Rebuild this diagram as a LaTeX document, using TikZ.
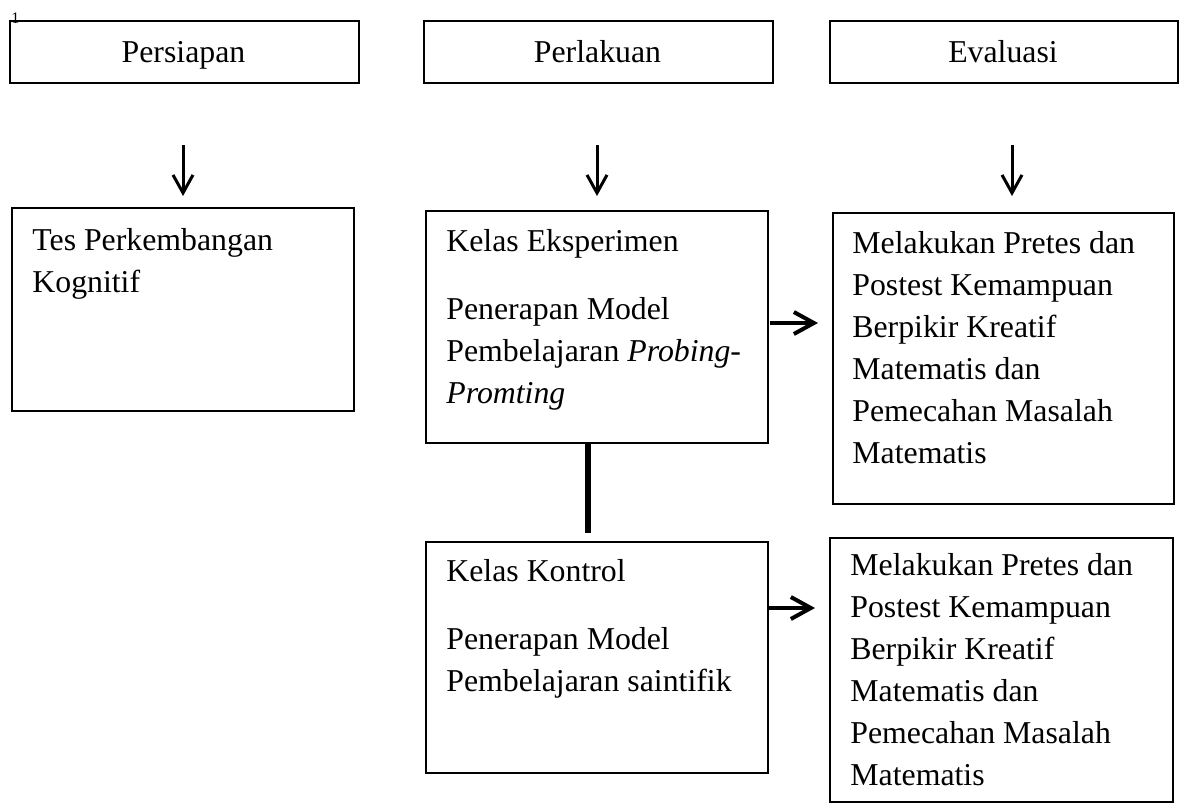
\documentclass[tikz,border=0pt]{standalone}
\usepackage{fontspec}
\setmainfont{Liberation Serif}
\usetikzlibrary{arrows.meta}
\begin{document}
\begin{tikzpicture}[x=0.5pt,y=-0.5pt,
  box/.style={draw, line width=1pt, rectangle, inner sep=0pt, anchor=north west},
  txt/.style={inner sep=0pt, anchor=base west, font=\fontsize{15.9}{21}\selectfont},
  head/.style={inner sep=0pt, anchor=base, font=\fontsize{15.9}{21}\selectfont},
  darr/.style={line width=1.5pt, -{Straight Barb[length=9pt,width=10pt]}},
  rarr/.style={line width=2pt, -{Straight Barb[length=10pt,width=11pt]}},
  link/.style={line width=3pt}]
\useasboundingbox (0,0) rectangle (1182,808);

% small footnote mark
\node[inner sep=0pt, anchor=base west, font=\fontsize{8}{9}\selectfont] (fn) at (11,24) {1};

% header boxes
\node[box, minimum width=174.5pt, minimum height=31pt] (prep) at (9,20) {};
\node[box, minimum width=174.5pt, minimum height=31pt] (perl) at (423,20) {};
\node[box, minimum width=174pt, minimum height=31pt] (eval) at (829,20) {};
\node[head] (tprep) at (183.5,63) {Persiapan};
\node[head] (tperl) at (597.5,63) {Perlakuan};
\node[head] (teval) at (1003,63) {Evaluasi};

% down arrows
\coordinate (a1s) at (183,145); \coordinate (a1e) at (183,196);
\coordinate (a2s) at (597,145); \coordinate (a2e) at (597,196);
\coordinate (a3s) at (1012,145); \coordinate (a3e) at (1012,196);
\draw[darr] (a1s) -- (a1e);
\draw[darr] (a2s) -- (a2e);
\draw[darr] (a3s) -- (a3e);

% content boxes
\node[box, minimum width=171pt, minimum height=101.5pt] (tes) at (11,207) {};
\node[box, minimum width=171pt, minimum height=116pt] (eks) at (425,210) {};
\node[box, minimum width=170.5pt, minimum height=145.5pt] (ev1) at (832,212) {};
\node[box, minimum width=171pt, minimum height=115.5pt] (kon) at (425,541) {};
\node[box, minimum width=171.5pt, minimum height=132pt] (ev2) at (829,537) {};

% texts
\node[txt] (ttes) at (32,250) {\parbox[t]{165pt}{\raggedright Tes Perkembangan\\Kognitif}};
\node[txt] (teks) at (446,251) {\parbox[t]{165pt}{\raggedright Kelas Eksperimen\\[13pt]Penerapan Model\\Pembelajaran \textit{Probing-}\\\textit{Promting}}};
\node[txt] (tev1) at (852,253) {\parbox[t]{165pt}{\raggedright Melakukan Pretes dan\\Postest Kemampuan\\Berpikir Kreatif\\Matematis dan\\Pemecahan Masalah\\Matematis}};
\node[txt] (tkon) at (446,581) {\parbox[t]{165pt}{\raggedright Kelas Kontrol\\[13pt]Penerapan Model\\Pembelajaran saintifik}};
\node[txt] (tev2) at (850,575) {\parbox[t]{165pt}{\raggedright Melakukan Pretes dan\\Postest Kemampuan\\Berpikir Kreatif\\Matematis dan\\Pemecahan Masalah\\Matematis}};

% right arrows
\coordinate (r1s) at (770,323); \coordinate (r1e) at (818,323);
\coordinate (r2s) at (767,608); \coordinate (r2e) at (815,608);
\draw[rarr] (r1s) -- (r1e);
\draw[rarr] (r2s) -- (r2e);

% link between classes
\coordinate (j) at (588,533);
\draw[link] (eks.south -| j) -- (j);
\end{tikzpicture}
\end{document}
